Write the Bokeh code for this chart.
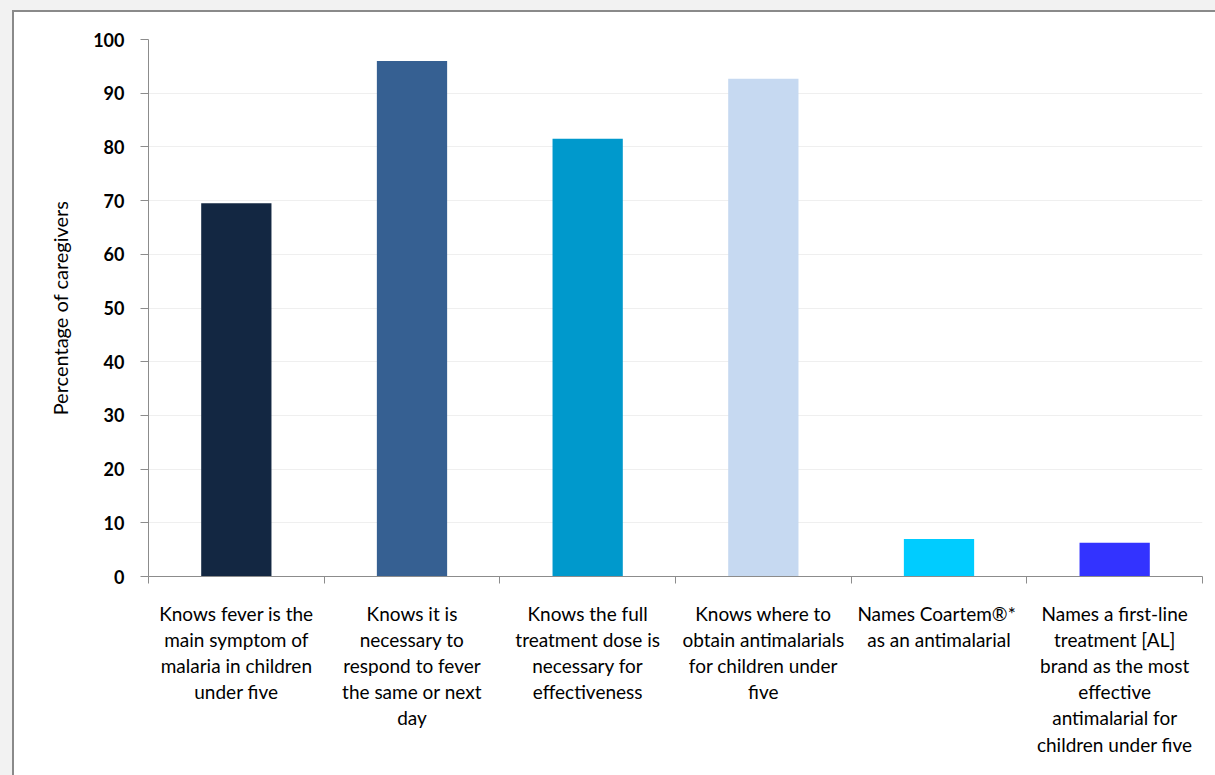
from bokeh.plotting import figure
from bokeh.models import ColumnDataSource, FixedTicker, Range1d, Column
from bokeh.embed import file_html
from bokeh.resources import INLINE

categories = [
    "Knows fever is the\nmain symptom of\nmalaria in children\nunder five",
    "Knows it is\nnecessary to\nrespond to fever\nthe same or next\nday",
    "Knows the full\ntreatment dose is\nnecessary for\neffectiveness",
    "Knows where to\nobtain antimalarials\nfor children under\nfive",
    "Names  Coartem\u00ae*\nas an antimalarial",
    "Names a first-line\ntreatment [AL]\nbrand as the most\neffective\nantimalarial for\nchildren under five",
]
values = [69.5, 96.0, 81.5, 92.7, 7.0, 6.3]
bar_colors = ["#132742", "#366092", "#0099cc", "#c6d9f1", "#00ccff", "#3333ff"]
y_ticks = [0, 10, 20, 30, 40, 50, 60, 70, 80, 90, 100]

n = len(categories)
centers = [i + 0.5 for i in range(n)]
source = ColumnDataSource(dict(x=centers, top=values, color=bar_colors))

p = figure(width=1201, height=763, output_backend="svg", toolbar_location=None,
           x_range=Range1d(0, n), y_range=Range1d(0, 100),
           min_border_left=134, min_border_right=13, min_border_top=27, min_border_bottom=199,
           border_fill_color="white", background_fill_color="white", outline_line_color=None)

p.vbar(x="x", top="top", width=0.4, bottom=0, fill_color="color", line_color=None, source=source)

# Y axis
p.yaxis.ticker = FixedTicker(ticks=y_ticks)
p.yaxis.minor_tick_line_color = None
p.yaxis.major_tick_in = 0
p.yaxis.major_tick_out = 8
p.yaxis.axis_line_color = "#8c8c8c"
p.yaxis.major_tick_line_color = "#8c8c8c"
p.yaxis.major_label_text_font = "Lato"
p.yaxis.major_label_text_font_style = "bold"
p.yaxis.major_label_text_font_size = "18px"
p.yaxis.major_label_text_color = "#000000"
p.yaxis.major_label_standoff = 16
p.yaxis.axis_label = "Percentage of caregivers"
p.yaxis.axis_label_text_font = "Lato"
p.yaxis.axis_label_text_font_style = "normal"
p.yaxis.axis_label_text_font_size = "20px"
p.yaxis.axis_label_text_color = "#000000"
p.yaxis.axis_label_standoff = 18

# X axis
p.xaxis.ticker = FixedTicker(ticks=centers, minor_ticks=list(range(n + 1)))
p.xaxis.major_label_overrides = {c: lab for c, lab in zip(centers, categories)}
p.xaxis.major_tick_in = 0
p.xaxis.major_tick_out = 0
p.xaxis.minor_tick_in = 0
p.xaxis.minor_tick_out = 7
p.xaxis.axis_line_color = "#8c8c8c"
p.xaxis.minor_tick_line_color = "#8c8c8c"
p.xaxis.major_label_text_font = "Lato"
p.xaxis.major_label_text_font_size = "19px"
p.xaxis.major_label_text_color = "#000000"
p.xaxis.major_label_text_line_height = 1.14
p.xaxis.major_label_standoff = 18

p.xgrid.grid_line_color = None
p.ygrid.ticker = FixedTicker(ticks=y_ticks)
p.ygrid.grid_line_color = "#efefef"

inner = Column(p, styles={"background-color": "white",
                          "border-left": "2px solid #8a8a8a",
                          "border-top": "2px solid #8a8a8a"})
layout = Column(inner, styles={"background-color": "white",
                               "border-left": "12px solid #f2f2f2",
                               "border-top": "10px solid #f2f2f2"})

open("out.html", "w").write(file_html(layout, INLINE))
